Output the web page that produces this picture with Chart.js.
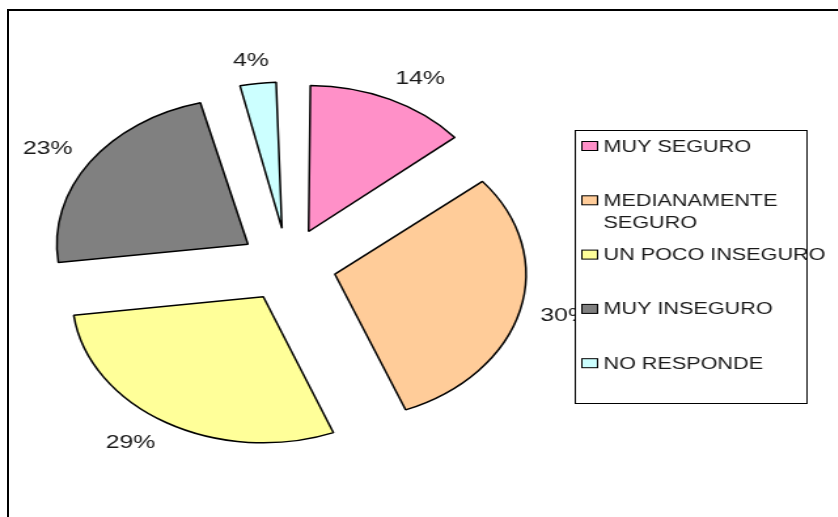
<!DOCTYPE html>
<html>
<head>
<meta charset="utf-8">
<title>Sensación de seguridad</title>
<script src="https://cdn.jsdelivr.net/npm/chart.js@4.4.0/dist/chart.umd.min.js"></script>
<style>
  html, body { margin: 0; padding: 0; background: #fff; overflow: hidden; }
  body { width: 838px; height: 517px; position: relative; }
  #frame { position: absolute; left: 7px; top: 9px; right: -6px; bottom: -6px;
           border-left: 2px solid #000; border-top: 2px solid #000; }
  /* chart is drawn narrow and stretched sideways, like the old spreadsheet picture */
  #wrap { position: absolute; left: 0; top: 0; width: 640px; height: 517px;
          transform: scaleX(1.309); transform-origin: 0 0; }
</style>
</head>
<body>
<div id="frame"></div>
<div id="wrap"><canvas id="pieChart" width="640" height="517" style="width:640px;height:517px"></canvas></div>
<script>
var categories = ['MUY SEGURO', ['MEDIANAMENTE', 'SEGURO'], 'UN POCO INSEGURO', 'MUY INSEGURO', 'NO RESPONDE'];
var percents = [14, 30, 29, 23, 4];
var sliceColors = ['#FF90C8', '#FFCC99', '#FFFF99', '#808080', '#CCFFFF'];

var FONT = 'Arial, "Liberation Sans", sans-serif';
var EXPLODE = 148; // arc offset, chart.js moves each slice out by offset / 4

// extra radius chart.js gives a slice when it is offset (bigger for thin slices)
function radiusGrowth(arc) {
    return (1 - Math.sin(Math.min(Math.PI, arc.circumference))) * EXPLODE / 4;
}

// take that extra radius back out so every slice has the same size
var evenRadius = {
    id: 'evenRadius',
    afterDatasetUpdate: function (chart, args) {
        args.meta.data.forEach(function (arc) {
            arc.outerRadius -= radiusGrowth(arc);
        });
    }
};

// percentage labels just outside each slice
var pctLabels = {
    id: 'pctLabels',
    afterDatasetsDraw: function (chart) {
        var ctx = chart.ctx;
        var arcs = chart.getDatasetMeta(0).data;
        ctx.save();
        ctx.font = '19px ' + FONT;
        ctx.fillStyle = '#1a1a1a';
        ctx.textAlign = 'center';
        ctx.textBaseline = 'middle';
        arcs.forEach(function (arc, i) {
            var mid = (arc.startAngle + arc.endAngle) / 2;
            var dx = Math.cos(mid), dy = Math.sin(mid);
            var text = percents[i] + '%';
            var w = ctx.measureText(text).width, h = 14;
            var ax = arc.x + dx * EXPLODE / 4;
            var ay = arc.y + dy * EXPLODE / 4;
            var d = arc.outerRadius + radiusGrowth(arc) + 16;
            var side = Math.sign(dx) * Math.min(1, Math.abs(dx) * 2);
            ctx.fillText(text, ax + dx * d + side * w / 2, ay + dy * (d + h / 2));
        });
        ctx.restore();
    }
};

// boxed legend on the right, drawn over everything
var boxLegend = {
    id: 'boxLegend',
    afterDraw: function (chart) {
        var ctx = chart.ctx;
        var labels = chart.data.labels;
        var colors = chart.data.datasets[0].backgroundColor;
        var box = { x: 439, y: 130, w: 177, h: 273 };
        var firstRow = 146, rowStep = 54.3, lineStep = 22;

        ctx.save();
        ctx.fillStyle = '#fff';
        ctx.fillRect(box.x, box.y, box.w, box.h);
        ctx.strokeStyle = '#000';
        ctx.lineWidth = 1;
        ctx.strokeRect(box.x + 0.5, box.y + 0.5, box.w, box.h);

        ctx.font = '16.5px ' + FONT;
        ctx.textAlign = 'left';
        ctx.textBaseline = 'middle';
        labels.forEach(function (label, i) {
            var y = firstRow + rowStep * i;
            ctx.fillStyle = colors[i];
            ctx.fillRect(444.5, y - 4.5, 12, 9);
            ctx.strokeStyle = '#000';
            ctx.strokeRect(444.5, y - 4.5, 12, 9);
            ctx.fillStyle = '#1a1a1a';
            var lines = Array.isArray(label) ? label : [label];
            lines.forEach(function (line, j) {
                ctx.fillText(line, 461, y + j * lineStep + 1);
            });
        });
        ctx.restore();
    }
};

var ctx = document.getElementById('pieChart').getContext('2d');

var myChart = new Chart(ctx, {
    type: 'pie',
    data: {
        labels: categories,
        datasets: [{
            data: percents,
            backgroundColor: sliceColors,
            borderColor: '#000',
            borderWidth: 1.5,
            offset: EXPLODE,
            hoverOffset: 0
        }]
    },
    options: {
        responsive: false,
        animation: false,
        events: [],
        radius: 146,
        layout: {
            padding: { left: 0, right: 200, top: 13, bottom: 0 }
        },
        plugins: {
            legend: { display: false },
            tooltip: { enabled: false }
        }
    },
    plugins: [evenRadius, pctLabels, boxLegend]
});
</script>
</body>
</html>
